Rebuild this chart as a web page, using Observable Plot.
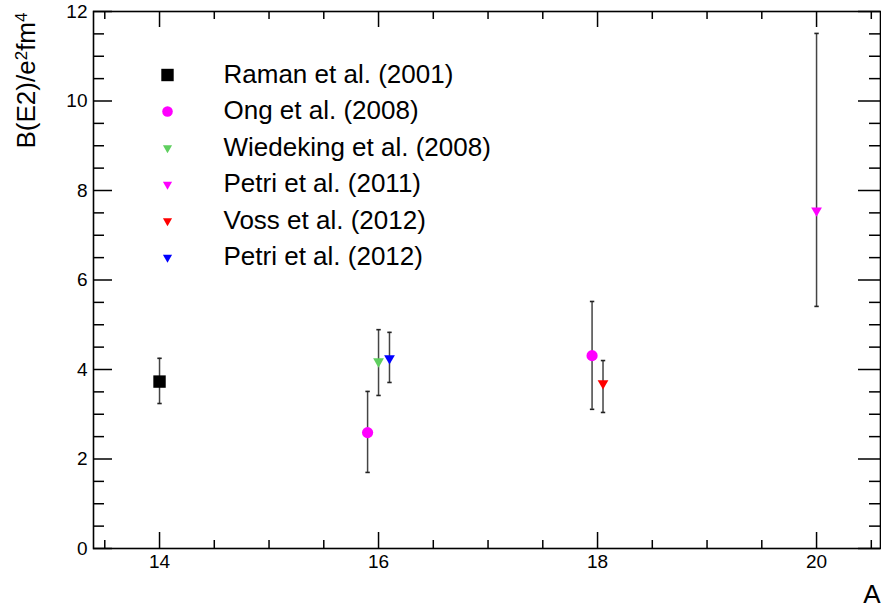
<!DOCTYPE html>
<html>
<head>
<meta charset="utf-8">
<script src="https://cdn.jsdelivr.net/npm/d3@7"></script>
<script src="https://cdn.jsdelivr.net/npm/@observablehq/plot@0.6"></script>
<style>
  html, body { margin: 0; padding: 0; background: #fff; }
  #chart { width: 881px; height: 610px; }
</style>
</head>
<body>
<div id="chart"></div>
<script>
// ---- data ----
const seriesNames = ["Raman et al. (2001)", "Ong et al. (2008)", "Wiedeking et al. (2008)", "Petri et al. (2011)", "Voss et al. (2012)", "Petri et al. (2012)"];
const seriesColors = ["#000000", "#ff00ff", "#5fcf5f", "#ff00ff", "#ff0000", "#0000ff"];
const seriesSymbols = ["square", "circle", "triangle", "triangle", "triangle", "triangle"];

const pointSeries = [0, 1, 2, 5, 1, 4, 3];
const massA = [14, 15.9, 16.0, 16.1, 17.95, 18.05, 20];
const be2 = [3.73, 2.59, 4.18, 4.25, 4.31, 3.69, 7.55];
const be2Lo = [3.24, 1.70, 3.42, 3.71, 3.11, 3.04, 5.41];
const be2Hi = [4.25, 3.51, 4.89, 4.83, 5.52, 4.20, 11.51];

const xMajor = [14, 16, 18, 20];
const xMinor = [13.5, 14.5, 15, 15.5, 16.5, 17, 17.5, 18.5, 19, 19.5, 20.5];
const yMajor = [0, 2, 4, 6, 8, 10, 12];
const yMinor = [0.5, 1, 1.5, 2.5, 3, 3.5, 4.5, 5, 5.5, 6.5, 7, 7.5, 8.5, 9, 9.5, 10.5, 11, 11.5];

const xTitle = "A";
const yTitle = "B(E2)/e2fm4";
const yTitleParts = [["B(E2)/e", false], ["2", true], ["fm", false], ["4", true]];

// ---- layout ----
const W = 881, H = 610;
const mL = 93, mR = 1, mT = 11, mB = 62;
const plotW = W - mL - mR, plotH = H - mT - mB;

const points = massA.map((a, i) => ({
  A: a, v: be2[i], lo: be2Lo[i], hi: be2Hi[i],
  color: seriesColors[pointSeries[i]], sym: seriesSymbols[pointSeries[i]]
}));

const capSymbol = { draw(ctx) { ctx.moveTo(-2.2, 0); ctx.lineTo(2.2, 0); } };
const symR = { square: 7, circle: 5.6, triangle: 4 };
const legR = { square: 7, circle: 5.3, triangle: 3.4 };

const legendMarks = [];
seriesNames.forEach((name, i) => {
  const dy = 63 + i * 36.5;
  legendMarks.push(Plot.dot([0], {
    frameAnchor: "top-left", dx: 74, dy: dy + 0.5,
    symbol: seriesSymbols[i], r: legR[seriesSymbols[i]],
    fill: seriesColors[i], stroke: "none",
    rotate: seriesSymbols[i] === "triangle" ? 180 : 0
  }));
  legendMarks.push(Plot.text([name], {
    frameAnchor: "top-left", dx: 130, dy: dy,
    text: d => d, textAnchor: "start", lineAnchor: "middle",
    fontSize: 26, fill: "#000"
  }));
});

const font = "'Liberation Sans', Arial, Helvetica, sans-serif";

const chart = Plot.plot({
  width: W, height: H,
  marginLeft: mL, marginRight: mR, marginTop: mT, marginBottom: mB,
  style: { fontFamily: font, fontSize: "19px", background: "#fff", color: "#000" },
  x: { domain: [13.397, 20.584], label: null },
  y: { domain: [0, 12], label: null },
  marks: [
    // ticks (inside frame)
    Plot.tickX(xMajor, { x: d => d, insetTop: plotH - 16, stroke: "#000", strokeWidth: 1.5 }),
    Plot.tickX(xMinor, { x: d => d, insetTop: plotH - 8, stroke: "#000", strokeWidth: 1.5 }),
    Plot.tickX(xMajor, { x: d => d, insetBottom: plotH - 16, stroke: "#000", strokeWidth: 1.5 }),
    Plot.tickX(xMinor, { x: d => d, insetBottom: plotH - 8, stroke: "#000", strokeWidth: 1.5 }),
    Plot.tickY(yMajor, { y: d => d, insetRight: plotW - 19, stroke: "#000", strokeWidth: 1.5 }),
    Plot.tickY(yMinor, { y: d => d, insetRight: plotW - 11, stroke: "#000", strokeWidth: 1.5 }),
    Plot.tickY(yMajor, { y: d => d, insetLeft: plotW - 22, stroke: "#000", strokeWidth: 1.5 }),
    Plot.tickY(yMinor, { y: d => d, insetLeft: plotW - 11, stroke: "#000", strokeWidth: 1.5 }),
    Plot.frame({ stroke: "#000", strokeWidth: 1.6 }),
    // axes labels
    Plot.axisX({ ticks: xMajor, tickSize: 0, tickPadding: 6, fontSize: 19, tickFormat: d => String(d), label: null, className: "xax" }),
    Plot.axisY({ ticks: yMajor, tickSize: 0, tickPadding: 6, fontSize: 19, tickFormat: d => String(d), label: null, className: "yax" }),
    Plot.text([xTitle], { frameAnchor: "bottom-right", dx: 0, dy: 46, text: d => d, textAnchor: "end", lineAnchor: "middle", fontSize: 26, fill: "#000" }),
    Plot.text([yTitle], { frameAnchor: "top-left", dx: -67, dy: 1, text: d => d, textAnchor: "end", lineAnchor: "middle", rotate: -90, fontSize: 26, fill: "#000" }),
    // error bars
    Plot.ruleX(points, { x: "A", y1: "lo", y2: "hi", stroke: "#444", strokeWidth: 1.5 }),
    Plot.dot(points, { x: "A", y: "lo", symbol: capSymbol, r: 2, stroke: "#222", strokeWidth: 1.6, fill: "none" }),
    Plot.dot(points, { x: "A", y: "hi", symbol: capSymbol, r: 2, stroke: "#222", strokeWidth: 1.6, fill: "none" }),
    // markers
    Plot.dot(points.filter(d => d.sym === "square"), { x: "A", y: "v", symbol: "square", r: symR.square, fill: "color", stroke: "none" }),
    Plot.dot(points.filter(d => d.sym === "circle"), { x: "A", y: "v", symbol: "circle", r: symR.circle, fill: "color", stroke: "none" }),
    Plot.dot(points.filter(d => d.sym === "triangle"), { x: "A", y: "v", symbol: "triangle", r: symR.triangle, rotate: 180, fill: "color", stroke: "none" }),
    // legend
    ...legendMarks
  ]
});

// axis tick label size (ensure applied)
chart.querySelectorAll("g[aria-label='x-axis tick label'], g[aria-label='y-axis tick label']").forEach(g => {
  g.setAttribute("font-size", "19");
  g.style.fontSize = "19px";
});

// superscripts in the y-axis title
const svgNS = "http://www.w3.org/2000/svg";
chart.querySelectorAll("text").forEach(t => {
  if (t.textContent === yTitle) {
    const target = t.querySelector("tspan") || t;
    while (target.firstChild) target.removeChild(target.firstChild);
    yTitleParts.forEach(([s, sup]) => {
      const sp = document.createElementNS(svgNS, "tspan");
      sp.textContent = s;
      if (sup) { sp.setAttribute("font-size", "17"); sp.setAttribute("baseline-shift", "45%"); }
      target.appendChild(sp);
    });
  }
});
document.getElementById("chart").appendChild(chart);
</script>
</body>
</html>
